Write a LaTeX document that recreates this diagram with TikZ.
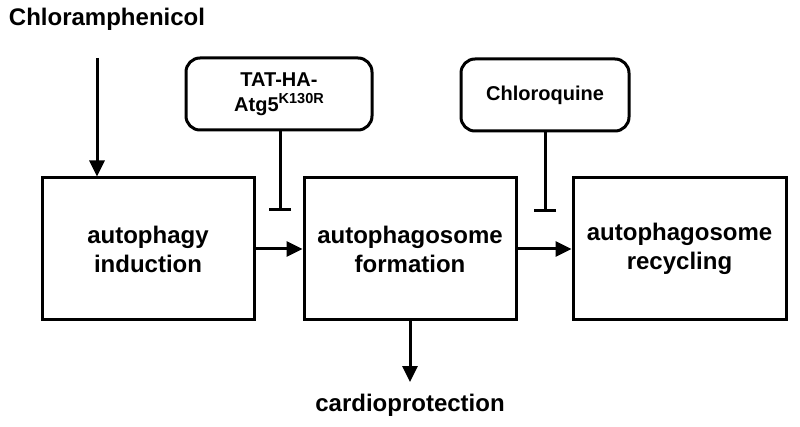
\documentclass[tikz,border=0pt]{standalone}
\usepackage{fontspec}
\setmainfont{Liberation Sans}
\usetikzlibrary{arrows.meta}

\tikzset{
  stage/.style={draw, line width=3pt, minimum width=212pt, minimum height=142pt,
    align=center, font=\fontsize{24}{29}\selectfont\bfseries},
  drug/.style={draw, line width=3pt, rounded corners=14pt, minimum width=186pt,
    minimum height=72pt, align=center, font=\fontsize{20}{25}\selectfont\bfseries},
  label/.style={font=\fontsize{24}{29}\selectfont\bfseries, inner sep=0pt},
  promote/.style={line width=3pt, -{Triangle[length=16pt,width=15pt]}},
  inhibit/.style={line width=3pt, -{Bar[width=22pt,line width=3pt]}}
}

\begin{document}
\begin{tikzpicture}[x=1pt, y=-1pt]
  \useasboundingbox (0,0) rectangle (800,427);
  % drugs and text labels
  \node[label] (chl) at (107,19) {Chloramphenicol};
  \node[drug] (tat) at (279,94) {TAT-HA-\\Atg5\raisebox{8pt}{\fontsize{14.5}{14.5}\selectfont K130R}};
  \node[drug, minimum width=168pt] (chq) at (545,95) {Chloroquine};
  % autophagy stages
  \node[stage] (ind) at (148,249) {autophagy\\induction};
  \node[stage] (form) at (410,249) {autophagosome\\formation};
  \node[stage, minimum width=213pt] (rec) at (679.5,249) {autophagosome\\recycling};
  \node[label] (card) at (410,405) {cardioprotection};
  % free ends
  \coordinate (chlend) at (97,58);
  \coordinate (tatbar) at (280,211);
  \coordinate (chqbar) at (545,212);
  \coordinate (cardtop) at (410,382);
  \path[promote]
    (chlend) edge (chlend |- ind.north)
    (ind) edge (form)
    (form) edge (rec)
    (form.south) edge (cardtop);
  \path[inhibit]
    (tat.south -| tatbar) edge (tatbar)
    (chq.south) edge (chqbar);
\end{tikzpicture}
\end{document}
